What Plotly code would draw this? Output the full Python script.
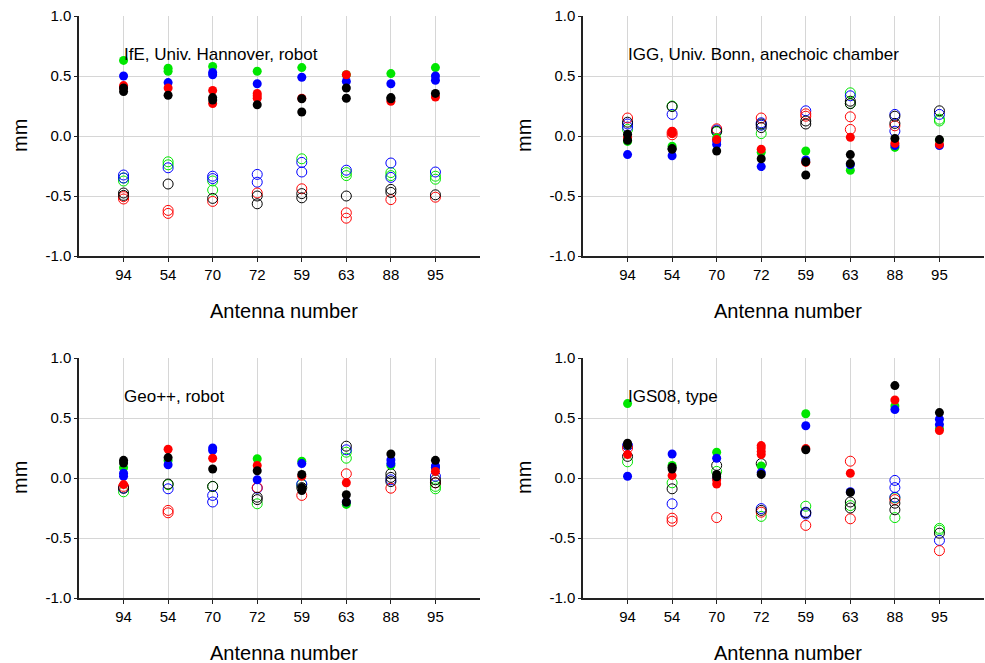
import plotly.graph_objects as go

# Antenna numbers along the x axis
ANTENNAS = ["94", "54", "70", "72", "59", "63", "88", "95"]
Y_TICKS = [-1.0, -0.5, 0.0, 0.5, 1.0]
Y_TICK_TEXT = ["-1.0", "-0.5", "0.0", "0.5", "1.0"]

PANEL_TITLES = [
    "IfE, Univ. Hannover, robot",
    "IGG, Univ. Bonn, anechoic chamber",
    "Geo++, robot",
    "IGS08, type",
]

# Values per antenna (mm); filled = first group, open = second group
# --- IfE, Univ. Hannover, robot
HAN_GREEN_FILL = [[0.63], [0.565, 0.54], [0.58], [0.54], [0.57], [0.51], [0.52], [0.57]]
HAN_BLUE_FILL = [[0.50], [0.445], [0.53, 0.51], [0.435], [0.49], [0.455], [0.435], [0.50, 0.465]]
HAN_RED_FILL = [[0.42, 0.40], [0.40], [0.38, 0.27], [0.355, 0.335, 0.315], [0.315], [0.51], [0.29], [0.325]]
HAN_BLACK_FILL = [[0.40, 0.37], [0.34], [0.32, 0.30], [0.26], [0.31, 0.20], [0.40, 0.315], [0.32, 0.31], [0.355]]
HAN_GREEN_OPEN = [[-0.35, -0.375], [-0.215, -0.24], [-0.375, -0.45], [], [-0.19], [-0.305, -0.33], [-0.305, -0.33], [-0.335, -0.36]]
HAN_BLUE_OPEN = [[-0.325, -0.35], [-0.265], [-0.335, -0.355], [-0.32, -0.385], [-0.22, -0.30], [-0.285], [-0.225, -0.345], [-0.30]]
HAN_RED_OPEN = [[-0.505, -0.525], [-0.62, -0.645], [-0.545], [-0.475], [-0.44], [-0.64, -0.685], [-0.53], [-0.51]]
HAN_BLACK_OPEN = [[-0.475, -0.495], [-0.40], [-0.52], [-0.50, -0.565], [-0.48, -0.515], [-0.50], [-0.445, -0.47], [-0.49]]

# --- IGG, Univ. Bonn, anechoic chamber
BON_GREEN_FILL = [[-0.045], [-0.085], [-0.015], [-0.135], [-0.125], [-0.285], [-0.095], [-0.035]]
BON_BLUE_FILL = [[-0.155], [-0.165], [-0.04, -0.07], [-0.255], [-0.20], [-0.24], [-0.08], [-0.08]]
BON_RED_FILL = [[-0.01], [0.04, 0.02], [-0.03], [-0.11], [-0.22], [-0.01], [-0.06], [-0.07]]
BON_BLACK_FILL = [[0.015, -0.035], [-0.105, -0.11], [-0.125], [-0.19], [-0.215, -0.325], [-0.155, -0.23], [-0.02], [-0.03]]
BON_GREEN_OPEN = [[0.055], [0.25], [0.035], [0.02], [], [0.36, 0.27], [], [0.14, 0.125]]
BON_BLUE_OPEN = [[0.10, 0.075], [0.18], [0.05], [0.11, 0.09], [0.21], [0.335], [0.18, 0.04], [0.18]]
BON_RED_OPEN = [[0.15], [0.03, 0.01], [0.06], [0.15], [0.185, 0.165], [0.16, 0.055], [0.085], []]
BON_BLACK_OPEN = [[0.115], [0.245], [0.04], [0.10, 0.07], [0.125, 0.10], [0.29, 0.27], [0.165, 0.105], [0.21]]

# --- Geo++, robot
GEO_GREEN_FILL = [[0.085], [0.145], [], [0.16], [0.14], [-0.22], [0.105], [0.09]]
GEO_BLUE_FILL = [[0.04, 0.015], [0.11], [0.25, 0.23], [-0.015], [0.12], [-0.20], [0.15, 0.12], [0.10, 0.085]]
GEO_RED_FILL = [[-0.055], [0.24], [0.165], [0.105], [0.015], [-0.04], [], [0.055]]
GEO_BLACK_FILL = [[0.147, 0.125], [0.17], [0.075], [0.06], [0.03, -0.08, -0.105], [-0.14, -0.20], [0.20], [0.147]]
GEO_GREEN_OPEN = [[-0.115], [-0.055], [-0.07], [-0.215], [-0.055], [0.215, 0.165], [], [-0.07, -0.09]]
GEO_BLUE_OPEN = [[-0.085], [-0.09], [-0.145, -0.20], [-0.085], [-0.05], [0.235], [-0.015], [0.015]]
GEO_RED_OPEN = [[-0.07], [-0.27, -0.29], [], [-0.08], [-0.145], [0.035], [-0.085], [-0.04]]
GEO_BLACK_OPEN = [[-0.085], [-0.05], [-0.07], [-0.16, -0.18], [-0.08], [0.265], [0.035, 0.005, -0.03], [-0.015, -0.04]]

# --- IGS08, type
IGS_GREEN_FILL = [[0.62], [0.105], [0.215], [0.10], [0.535], [], [0.60], [0.41]]
IGS_BLUE_FILL = [[0.015], [0.20], [0.165, -0.005], [0.045], [0.435], [-0.115], [0.57], [0.49, 0.445]]
IGS_RED_FILL = [[0.195], [0.02], [-0.015, -0.05], [0.27, 0.25, 0.22, 0.195], [0.245], [0.04], [0.65], [0.395]]
IGS_BLACK_FILL = [[0.29, 0.27], [0.09, 0.075], [0.03, 0.01], [0.03], [0.235], [-0.12], [0.77], [0.545]]
IGS_GREEN_OPEN = [[0.135], [-0.04], [0.055], [-0.32], [-0.235], [-0.23], [-0.165, -0.33], [-0.42, -0.435]]
IGS_BLUE_OPEN = [[0.27], [-0.215], [], [-0.255], [-0.285, -0.30], [], [-0.02, -0.08, -0.16], [-0.52]]
IGS_RED_OPEN = [[0.25], [-0.335, -0.36], [-0.33], [-0.285], [-0.395], [0.14, -0.34], [-0.18], [-0.605]]
IGS_BLACK_OPEN = [[0.18], [-0.09], [0.105], [0.12, -0.27], [-0.29], [-0.20, -0.25], [-0.21, -0.265], [-0.46]]

COLORS = {"green": "#00e600", "blue": "#0000ff", "red": "#ff0000", "black": "#000000"}

PANELS = [
    {"open": [HAN_GREEN_OPEN, HAN_BLUE_OPEN, HAN_RED_OPEN, HAN_BLACK_OPEN],
     "fill": [HAN_GREEN_FILL, HAN_BLUE_FILL, HAN_RED_FILL, HAN_BLACK_FILL]},
    {"open": [BON_GREEN_OPEN, BON_BLUE_OPEN, BON_RED_OPEN, BON_BLACK_OPEN],
     "fill": [BON_GREEN_FILL, BON_BLUE_FILL, BON_RED_FILL, BON_BLACK_FILL]},
    {"open": [GEO_GREEN_OPEN, GEO_BLUE_OPEN, GEO_RED_OPEN, GEO_BLACK_OPEN],
     "fill": [GEO_GREEN_FILL, GEO_BLUE_FILL, GEO_RED_FILL, GEO_BLACK_FILL]},
    {"open": [IGS_GREEN_OPEN, IGS_BLUE_OPEN, IGS_RED_OPEN, IGS_BLACK_OPEN],
     "fill": [IGS_GREEN_FILL, IGS_BLUE_FILL, IGS_RED_FILL, IGS_BLACK_FILL]},
]

W, H = 985, 663
FONT = "Liberation Sans, Arial, sans-serif"

# Plot-area boxes in pixels: (left, right, top, bottom)
BOXES = [(79, 480, 16, 256), (583, 984, 16, 256),
         (79, 480, 358, 598), (583, 984, 358, 598)]


def flatten(groups):
    xs, ys = [], []
    for i, vals in enumerate(groups):
        for v in vals:
            xs.append(i)
            ys.append(v)
    return xs, ys


fig = go.Figure()
color_order = ["green", "blue", "red", "black"]

for p, (panel, box) in enumerate(zip(PANELS, BOXES)):
    ax = "" if p == 0 else str(p + 1)
    for kind in ("open", "fill"):
        for cname, groups in zip(color_order, panel[kind]):
            xs, ys = flatten(groups)
            if kind == "fill":
                marker = dict(symbol="circle", size=9, color=COLORS[cname],
                              line=dict(width=0))
            else:
                marker = dict(symbol="circle-open", size=10, color=COLORS[cname],
                              line=dict(width=1, color=COLORS[cname]))
            fig.add_trace(go.Scatter(x=xs, y=ys, mode="markers", marker=marker,
                                     xaxis="x" + ax, yaxis="y" + ax,
                                     showlegend=False, hoverinfo="y"))

    l, r, t, b = box
    xdom = [l / W, r / W]
    ydom = [1 - b / H, 1 - t / H]
    fig.layout["xaxis" + ax] = dict(
        domain=xdom, anchor="y" + ax, range=[-1, 8], automargin=False,
        tickmode="array", tickvals=list(range(len(ANTENNAS))), ticktext=ANTENNAS,
        showgrid=True, gridcolor="#d6d6d6", gridwidth=1, zeroline=False,
        showline=True, linecolor="#222222", linewidth=1.5,
        ticks="outside", ticklen=4, tickcolor="#222222",
        tickfont=dict(family=FONT, size=15, color="#000"),
    )
    fig.layout["yaxis" + ax] = dict(
        domain=ydom, anchor="x" + ax, range=[-1, 1], automargin=False,
        tickmode="array", tickvals=Y_TICKS, ticktext=Y_TICK_TEXT,
        showgrid=True, gridcolor="#d6d6d6", gridwidth=1, zeroline=False,
        showline=True, linecolor="#222222", linewidth=1.5,
        ticks="outside", ticklen=3, tickcolor="#222222",
        tickfont=dict(family=FONT, size=15, color="#000"),
    )
    # panel label inside the plot
    fig.add_annotation(x=0, y=0.68, xref="x" + ax, yref="y" + ax,
                       text=PANEL_TITLES[p], showarrow=False,
                       xanchor="left", yanchor="middle", xshift=-2,
                       font=dict(family=FONT, size=17, color="#000"))
    # axis titles
    fig.add_annotation(x=((l + r) / 2 + 4) / W, y=1 - (b + 55) / H, xref="paper", yref="paper",
                       text="Antenna number", showarrow=False,
                       xanchor="center", yanchor="middle",
                       font=dict(family=FONT, size=20, color="#000"))
    fig.add_annotation(x=(l - 59) / W, y=1 - (t + b) / 2 / H, xref="paper", yref="paper",
                       text="mm", showarrow=False, textangle=-90,
                       xanchor="center", yanchor="middle",
                       font=dict(family=FONT, size=20, color="#000"))

fig.update_layout(
    template="none",
    width=W, height=H, autosize=False,
    margin=dict(l=0, r=0, t=0, b=0, pad=0, autoexpand=False),
    paper_bgcolor="white", plot_bgcolor="white",
    font=dict(family=FONT, color="#000"),
)

fig.write_html("out.html")
